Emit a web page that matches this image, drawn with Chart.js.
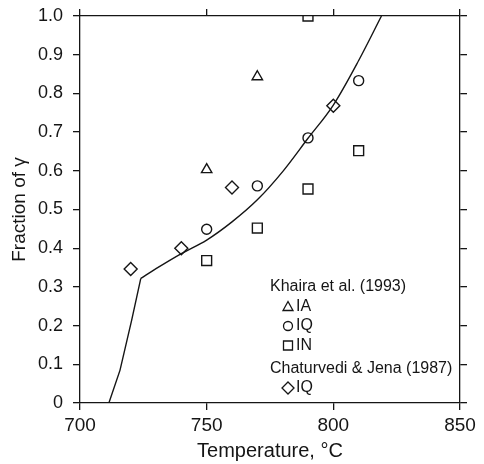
<!DOCTYPE html>
<html>
<head>
<meta charset="utf-8">
<script src="https://cdn.jsdelivr.net/npm/chart.js@4/dist/chart.umd.min.js"></script>
<style>
  html, body { margin: 0; padding: 0; background: #fff; }
  #wrap { width: 484px; height: 464px; }
</style>
</head>
<body>
<div id="wrap"><canvas id="chart" width="484" height="464"></canvas></div>
<script>
// ---------- Data ----------
const xTicks = [700, 750, 800, 850];
const yTicks = [0, 0.1, 0.2, 0.3, 0.4, 0.5, 0.6, 0.7, 0.8, 0.9, 1.0];

// Khaira et al. (1993)
const tempIA = [750, 770];
const fracIA = [0.603, 0.843];
const tempIQ = [750, 770, 790, 810];
const fracIQ = [0.449, 0.561, 0.685, 0.833];
const tempIN = [750, 770, 790, 790, 810];
const fracIN = [0.368, 0.452, 0.553, 1.0, 0.652];

// Chaturvedi & Jena (1987)
const tempCJ = [720, 740, 760, 800];
const fracCJ = [0.346, 0.400, 0.557, 0.768];

// model curve: straight lower part, then smooth upper part
const lowT = [711.4, 715.8, 720.4, 724];
const lowF = [0, 0.085, 0.214, 0.322];
const upT = [724, 730, 740, 750, 760, 770, 780, 790, 800, 810, 819];
const upF = [0.322, 0.347, 0.386, 0.421, 0.468, 0.525, 0.598, 0.684, 0.770, 0.885, 1.0];

const INK = '#151515';
const FONT = '"Liberation Sans", Arial, sans-serif';

function pts(xs, ys) {
  return xs.map((x, i) => ({ x: x, y: ys[i] }));
}

function markerSet(label, xs, ys, style, radius) {
  return {
    type: 'scatter', label: label, data: pts(xs, ys),
    pointStyle: style, pointRadius: radius, pointHoverRadius: radius,
    pointBorderWidth: 1.4, borderColor: INK, backgroundColor: 'rgba(0,0,0,0)',
    showLine: false
  };
}

// fixed axis box sizes so the plot frame lands where it does in the figure
function fixSize(prop, size) {
  return s => {
    s[prop] = size;
    s.paddingTop = s.paddingBottom = s.paddingLeft = s.paddingRight = 0;
  };
}

// ---------- Legend drawn inside the plot ----------
function drawMark(ctx, style, x, y) {
  ctx.save();
  ctx.strokeStyle = INK;
  ctx.lineWidth = 1.3;
  ctx.beginPath();
  if (style === 'triangle') {
    ctx.moveTo(x, y - 5); ctx.lineTo(x + 5, y + 4); ctx.lineTo(x - 5, y + 4); ctx.closePath();
  } else if (style === 'circle') {
    ctx.arc(x, y, 4.5, 0, Math.PI * 2);
  } else if (style === 'rect') {
    ctx.rect(x - 4.5, y - 4.5, 9, 9);
  } else {
    ctx.moveTo(x, y - 6); ctx.lineTo(x + 6, y); ctx.lineTo(x, y + 6); ctx.lineTo(x - 6, y); ctx.closePath();
  }
  ctx.stroke();
  ctx.restore();
}

const legendRows = [
  { text: 'Khaira et al. (1993)', mark: null },
  { text: 'IA', mark: 'triangle' },
  { text: 'IQ', mark: 'circle' },
  { text: 'IN', mark: 'rect' },
  { text: 'Chaturvedi & Jena (1987)', mark: null },
  { text: 'IQ', mark: 'rectRot' }
];

const innerLegend = {
  id: 'innerLegend',
  afterDraw(chart) {
    const ctx = chart.ctx;
    const a = chart.chartArea;
    const x0 = a.left + 190;
    let y = a.top + 271;
    ctx.save();
    ctx.fillStyle = INK;
    ctx.font = '16px ' + FONT;
    ctx.textBaseline = 'middle';
    legendRows.forEach((r, i) => {
      if (r.mark) {
        drawMark(ctx, r.mark, x0 + 18, y);
        ctx.fillText(r.text, x0 + 26, y);
      } else {
        ctx.fillText(r.text, x0, y);
      }
      y += (i === 3) ? 23 : 19.5;
    });
    ctx.restore();
  }
};

// ---------- Chart ----------
const axisLine = { color: INK, width: 1.3 };
const tickMarks = { drawOnChartArea: false, tickLength: 7, color: INK, lineWidth: 1.3 };

const ctx = document.getElementById('chart').getContext('2d');
new Chart(ctx, {
  type: 'scatter',
  data: {
    datasets: [
      { type: 'line', label: 'model low', data: pts(lowT, lowF), borderColor: INK, borderWidth: 1.4,
        pointRadius: 0, tension: 0, fill: false },
      { type: 'line', label: 'model', data: pts(upT, upF), borderColor: INK, borderWidth: 1.4,
        pointRadius: 0, cubicInterpolationMode: 'monotone', fill: false },
      markerSet('IA', tempIA, fracIA, 'triangle', 6),
      markerSet('IQ', tempIQ, fracIQ, 'circle', 5),
      markerSet('IN', tempIN, fracIN, 'rect', 7),
      markerSet('CJ IQ', tempCJ, fracCJ, 'rectRot', 6.5)
    ]
  },
  options: {
    responsive: false,
    animation: false,
    layout: { autoPadding: false, padding: 0 },
    plugins: { legend: { display: false }, tooltip: { enabled: false } },
    scales: {
      x: {
        type: 'linear', position: 'bottom', min: 700, max: 850,
        afterBuildTicks: s => { s.ticks = xTicks.map(v => ({ value: v })); },
        afterFit: fixSize('height', 61),
        border: axisLine, grid: tickMarks,
        ticks: { color: INK, font: { family: FONT, size: 19 }, padding: 4, maxRotation: 0 },
        title: { display: true, text: 'Temperature, °C', color: INK,
                 font: { family: FONT, size: 20 }, padding: { top: 0, bottom: 1 } }
      },
      x2: {
        type: 'linear', position: 'top', min: 700, max: 850,
        afterBuildTicks: s => { s.ticks = xTicks.map(v => ({ value: v })); },
        afterFit: fixSize('height', 16),
        border: axisLine, grid: tickMarks,
        ticks: { display: false }
      },
      y: {
        type: 'linear', position: 'left', min: 0, max: 1,
        afterBuildTicks: s => { s.ticks = yTicks.map(v => ({ value: v })); },
        afterFit: fixSize('width', 80),
        border: axisLine, grid: tickMarks,
        ticks: { color: INK, font: { family: FONT, size: 18 }, padding: 10,
                 callback: v => (v === 0 ? '0' : Number(v).toFixed(1)) },
        title: { display: true, text: 'Fraction of γ', color: INK,
                 font: { family: FONT, size: 19 }, padding: { top: 8, bottom: 0 } }
      },
      y2: {
        type: 'linear', position: 'right', min: 0, max: 1,
        afterBuildTicks: s => { s.ticks = yTicks.map(v => ({ value: v })); },
        afterFit: fixSize('width', 24),
        border: axisLine, grid: tickMarks,
        ticks: { display: false }
      }
    }
  },
  plugins: [innerLegend]
});
</script>
</body>
</html>
